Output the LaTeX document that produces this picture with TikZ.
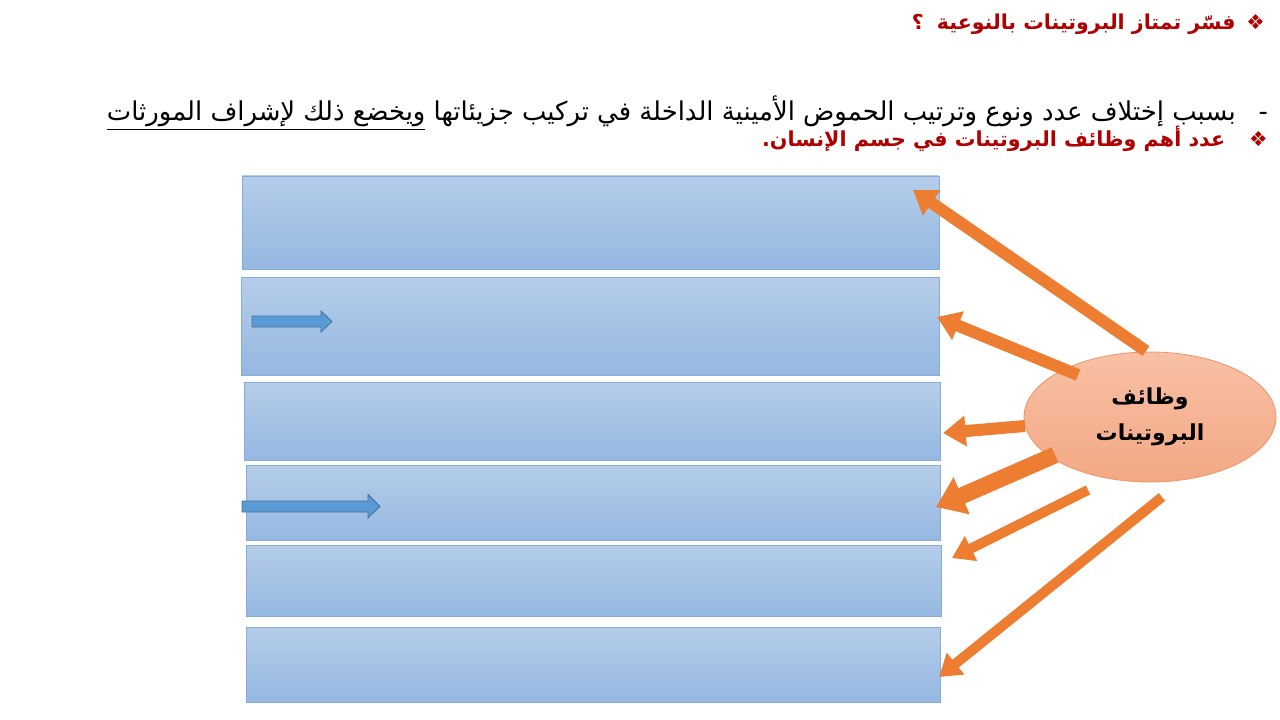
\documentclass[tikz,border=0pt]{standalone}
\usepackage{fontspec}
\TeXXeTstate=1
\newfontfamily\arabicfont[Script=Arabic]{DejaVu Sans}
\usetikzlibrary{arrows.meta,shapes.geometric,fit,calc}
\definecolor{boxtop}{RGB}{181,205,233}
\definecolor{boxbot}{RGB}{149,184,225}
\definecolor{boxline}{RGB}{135,172,218}
\definecolor{barfill}{RGB}{91,155,213}
\definecolor{barline}{RGB}{65,113,156}
\definecolor{orangeA}{RGB}{237,125,49}
\definecolor{elltop}{RGB}{248,192,165}
\definecolor{ellbot}{RGB}{243,168,132}
\definecolor{elline}{RGB}{238,150,100}
\definecolor{darkred}{RGB}{176,0,0}
\tikzset{
  bluebox/.style={draw=boxline, line width=0.6pt, top color=boxtop, bottom color=boxbot, inner sep=0pt, outer sep=0pt},
  bluebar/.style={draw=barline, fill=barfill, line width=0.6pt},
  funcs/.style={ellipse, draw=elline, line width=0.6pt, top color=elltop, bottom color=ellbot, inner sep=0pt, minimum width=189pt, minimum height=97.5pt, align=center, font=\arabicfont\bfseries\fontsize{16.5}{27}\selectfont},
  oarrow/.style={draw=orangeA, line width=9pt, line cap=butt, -{Triangle[width=22pt,length=17pt]}},
  oarrowthick/.style={draw=orangeA, line width=12.5pt, line cap=butt, -{Triangle[width=29pt,length=21pt]}},
  oarrowthin/.style={draw=orangeA, line width=7.5pt, line cap=butt, -{Triangle[width=20pt,length=16pt]}},
  rtltext/.style={inner sep=0pt, anchor=base east}
}
\begin{document}
\begin{tikzpicture}[x=0.75pt,y=-0.75pt]
\useasboundingbox (0,0) rectangle (1280,720);
\fill[white] (0,0) rectangle (1280,720);

% texts
\node[rtltext, text=darkred, font=\arabicfont\bfseries\fontsize{15.4}{18}\selectfont] (title) at (1265,30)
  {\beginR ❖\hspace{8pt}فسّر تمتاز البروتينات بالنوعية\hspace{10pt}؟\endR};
\node[rtltext, text=black, font=\arabicfont\fontsize{19.4}{22}\selectfont] (reason) at (1268,121)
  {\beginR -\hspace{17pt}بسبب إختلاف عدد ونوع وترتيب الحموض الأمينية الداخلة في تركيب جزيئاتها \underline{\beginR ويخضع ذلك لإشراف المورثات\endR}\endR};
\node[rtltext, text=darkred, font=\arabicfont\bfseries\fontsize{15.5}{18}\selectfont] (question) at (1268,147)
  {\beginR ❖\hspace{18pt}عدد أهم وظائف البروتينات في جسم الإنسان.\endR};

% boxes
\node[bluebox, fit={(242,176) (939,269)}] (b1) {};
\node[bluebox, fit={(241,277) (939,375)}] (b2) {};
\node[bluebox, fit={(244,382) (940,460)}] (b3) {};
\node[bluebox, fit={(246,465) (940,540)}] (b4) {};
\node[bluebox, fit={(246,545) (941,616)}] (b5) {};
\node[bluebox, fit={(246,627) (940,702)}] (b6) {};

% small blue arrows
\draw[bluebar] (252,316) -- (321,316) -- (321,311) -- (332,321.5) -- (321,332) -- (321,327) -- (252,327) -- cycle;
\draw[bluebar] (242,501) -- (368,501) -- (368,494.5) -- (380,506.5) -- (368,518) -- (368,512) -- (242,512) -- cycle;

% ellipse
\node[funcs] (ell) at (1150,417) {\beginR وظائف\endR\\\beginR البروتينات\endR};

% arrow ends
\coordinate (t1) at ($(ell.center)+(-4,-66)$);
\coordinate (t2) at ($(ell.center)+(-72,-42)$);
\coordinate (t3) at ($(ell.center)+(-125,9)$);
\coordinate (t4) at ($(ell.center)+(-95,38)$);
\coordinate (t5) at ($(ell.center)+(-62,73)$);
\coordinate (t6) at ($(ell.center)+(12,80)$);
\coordinate (h1) at ($(b1.north east)+(-26,14)$);
\coordinate (h2) at ($(b2.north east)+(-2,40)$);
\coordinate (h3) at ($(b3.north east)+(3,51)$);
\coordinate (h4) at ($(b4.north east)+(-4,42)$);
\coordinate (h5) at ($(b5.north east)+(11,13)$);
\coordinate (h6) at ($(b6.north east)+(-1,50)$);

\draw[oarrow] (t1) -- (h1);
\draw[oarrow] (t2) -- (h2);
\draw[oarrow] (t3) -- (h3);
\draw[oarrowthick] (t4) -- (h4);
\draw[oarrowthin] (t5) -- (h5);
\draw[oarrowthin] (t6) -- (h6);
\end{tikzpicture}
\end{document}
